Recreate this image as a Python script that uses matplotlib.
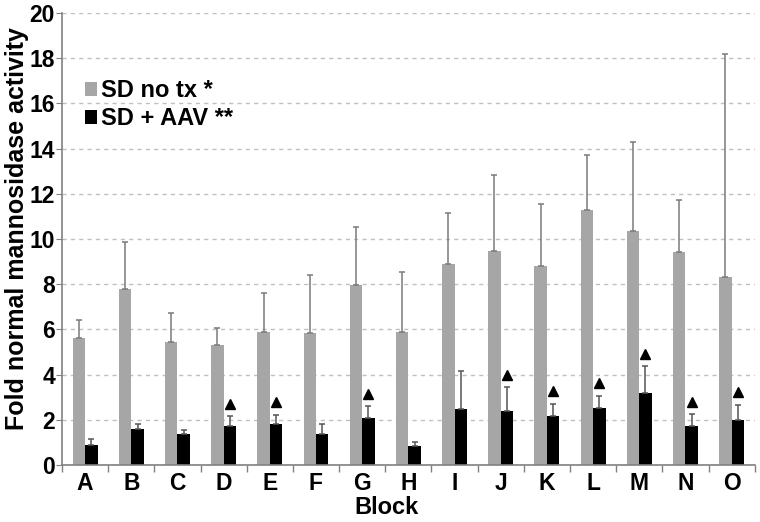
import numpy as np
import matplotlib.pyplot as plt

plt.rcParams['font.family'] = ['Liberation Sans', 'DejaVu Sans']
plt.rcParams['font.weight'] = 'bold'

blocks = list("ABCDEFGHIJKLMNO")
no_tx = [5.63, 7.79, 5.46, 5.32, 5.88, 5.84, 7.98, 5.88, 8.89, 9.46, 8.81, 11.28, 10.34, 9.41, 8.32]
no_tx_err = [0.79, 2.06, 1.28, 0.74, 1.73, 2.55, 2.56, 2.67, 2.25, 3.37, 2.75, 2.44, 3.97, 2.33, 9.88]
aav = [0.87, 1.61, 1.35, 1.73, 1.83, 1.38, 2.08, 0.85, 2.50, 2.39, 2.19, 2.54, 3.17, 1.72, 2.01]
aav_err = [0.29, 0.22, 0.20, 0.42, 0.40, 0.43, 0.53, 0.18, 1.68, 1.06, 0.53, 0.53, 1.20, 0.53, 0.66]
# blocks marked with a triangle above the AAV bar
marked = ["D", "E", "G", "J", "K", "L", "M", "N", "O"]

x = np.arange(len(blocks))
w = 0.27

fig = plt.figure(figsize=(7.6, 5.22), dpi=100)
ax = fig.add_axes([0.0816, 0.1092, 0.9114, 0.8658])

ax.bar(x - w / 2, no_tx, w, color='#a6a6a6', label='SD no tx *', zorder=2)
ax.bar(x + w / 2, aav, w, color='black', label='SD + AAV **', zorder=2)
ax.errorbar(x - w / 2, no_tx, yerr=[np.zeros(len(x)), no_tx_err], fmt='none',
            ecolor='#7a7a7a', elinewidth=1.1, capsize=2.5, capthick=1.1, zorder=3)
ax.errorbar(x + w / 2, aav, yerr=[np.zeros(len(x)), aav_err], fmt='none',
            ecolor='#555555', elinewidth=1.1, capsize=2.5, capthick=1.1, zorder=3)

for b in marked:
    i = blocks.index(b)
    ax.plot(x[i] + w / 2, aav[i] + aav_err[i] + 0.55, marker='^', color='black',
            markersize=7.5, zorder=4)

ax.set_xlim(-0.5, len(blocks) - 0.5)
ax.set_ylim(0, 20)
ax.set_yticks(np.arange(0, 21, 2))
ax.set_xticks(x)
ax.set_xticklabels(blocks, fontsize=16.5, fontweight='bold')
ax.set_xticks(np.arange(-0.5, len(blocks)), minor=True)
ax.tick_params(axis='x', which='major', length=0, pad=5)
ax.tick_params(axis='x', which='minor', length=5, color='#808080', width=1)
ax.tick_params(axis='y', length=4, color='#808080', labelsize=16.5, pad=1)
for lab in ax.get_yticklabels():
    lab.set_fontweight('bold')

ax.grid(axis='y', linestyle=(0, (3, 3)), color='#c0c0c0', linewidth=1, zorder=0)
ax.set_axisbelow(True)
for s in ['top', 'right']:
    ax.spines[s].set_visible(False)
for s in ['left', 'bottom']:
    ax.spines[s].set_color('#808080')
    ax.spines[s].set_linewidth(1.2)

fig.text(387 / 760, 1 - 508 / 522, 'Block', fontsize=17, fontweight='bold',
         ha='center', va='center')
fig.text(17 / 760, 1 - 229 / 522, 'Fold normal mannosidase activity', fontsize=18,
         fontweight='bold', rotation=90, ha='center', va='center')

ax.legend(loc='upper left', bbox_to_anchor=(0.033, 0.853), frameon=False,
          prop={'size': 17, 'weight': 'bold'}, handlelength=0.5, handleheight=0.5,
          handletextpad=0.2, labelspacing=0.2, borderaxespad=0, borderpad=0)

fig.savefig('out.png', dpi=100)
